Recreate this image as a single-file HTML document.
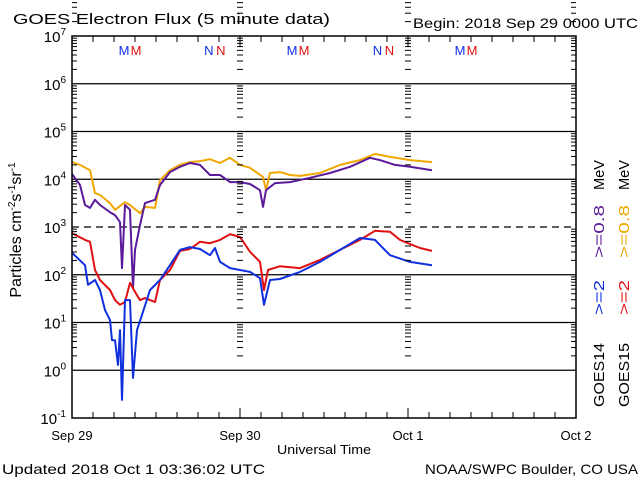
<!DOCTYPE html>
<html><head><meta charset="utf-8"><style>
html,body{margin:0;padding:0;background:#fff;}
svg{display:block;font-family:"Liberation Sans",sans-serif;}
</style></head><body>
<svg id="chart" width="640" height="480" viewBox="0 0 640 480">
<text x="13" y="24" font-size="15" textLength="317" lengthAdjust="spacingAndGlyphs">GOES Electron Flux (5 minute data)</text>
<text x="413" y="28" font-size="14" textLength="225" lengthAdjust="spacingAndGlyphs">Begin: 2018 Sep 29 0000 UTC</text>
<g id="grid"></g>
<g id="series"></g>
<g id="axes"></g>
<text transform="translate(21,230) rotate(-90)" font-size="16" text-anchor="middle">Particles cm<tspan font-size="10" dy="-6">-2</tspan><tspan dy="6">s</tspan><tspan font-size="10" dy="-6">-1</tspan><tspan dy="6">sr</tspan><tspan font-size="10" dy="-6">-1</tspan></text>
<text x="277" y="454" font-size="13" textLength="94" lengthAdjust="spacingAndGlyphs">Universal Time</text>
<text x="2" y="474" font-size="14" textLength="263" lengthAdjust="spacingAndGlyphs">Updated 2018 Oct  1 03:36:02 UTC</text>
<text x="425" y="474" font-size="14" textLength="213" lengthAdjust="spacingAndGlyphs">NOAA/SWPC Boulder, CO USA</text>
<g transform="translate(604,407) rotate(-90)" font-size="15">
<text x="0" y="0" fill="#000" textLength="64" lengthAdjust="spacingAndGlyphs">GOES14</text>
<text x="92" y="0" fill="#1030e0" textLength="35" lengthAdjust="spacingAndGlyphs">&gt;=2</text>
<text x="149" y="0" fill="#5a1a9a" textLength="53" lengthAdjust="spacingAndGlyphs">&gt;=0.8</text>
<text x="217" y="0" fill="#000" textLength="30" lengthAdjust="spacingAndGlyphs">MeV</text>
</g>
<g transform="translate(629,407) rotate(-90)" font-size="15">
<text x="0" y="0" fill="#000" textLength="64" lengthAdjust="spacingAndGlyphs">GOES15</text>
<text x="92" y="0" fill="#e01010" textLength="35" lengthAdjust="spacingAndGlyphs">&gt;=2</text>
<text x="149" y="0" fill="#f0a800" textLength="53" lengthAdjust="spacingAndGlyphs">&gt;=0.8</text>
<text x="217" y="0" fill="#000" textLength="30" lengthAdjust="spacingAndGlyphs">MeV</text>
</g>
<g id="markers" font-size="13"></g>
</svg>
<script>
const yTickExps = [7,6,5,4,3,2,1,0,-1];
const dayLabels = ["Sep 29","Sep 30","Oct 1","Oct 2"];
const markerLetters = ["M","N","M","N","M"];
const markerHours = [8.3,20.4,32.3,44.5,56.3];
// series: hours since Sep 29 00:00 UTC and log10 flux
const g15e08T = [0,1.14,2.57,3.29,4,5.43,6.14,7.57,8.29,9.71,10.43,11.86,12.57,14,15.43,16.86,18.29,19.71,21.14,22.57,24,25.43,27.29,27.71,28.29,29.71,31.14,32.57,35.43,38.29,41.14,43.29,45.43,48.29,51.43];
const g15e08V = [4.36,4.30,4.19,3.71,3.67,3.50,3.36,3.52,3.46,3.29,3.42,3.40,3.98,4.19,4.30,4.36,4.38,4.42,4.34,4.45,4.30,4.24,4.05,3.77,4.13,4.15,4.09,4.07,4.13,4.30,4.40,4.53,4.47,4.40,4.36];
const g14e08T = [0,1.14,1.86,2.57,3.29,4,5.43,6.14,6.86,7.14,7.57,8.29,8.71,9,9.71,10.43,11.86,12.57,14,15.43,16.86,18.29,19.71,21.14,22.57,24,25.43,26.86,27.29,27.71,29,31.14,34,36.86,39.71,42.57,44,46.14,48.29,51.43];
const g14e08V = [4.11,3.88,3.46,3.40,3.57,3.46,3.31,3.25,3.10,2.14,3.46,3.36,1.72,2.52,3.04,3.50,3.57,3.88,4.15,4.26,4.34,4.30,4.09,4.09,3.94,3.94,3.90,3.77,3.42,3.77,3.92,3.94,4.03,4.13,4.26,4.45,4.40,4.30,4.26,4.19];
const g15e2T = [0,1.86,2.57,3.29,4,5.43,6.14,6.86,7.57,8.29,9,9.71,10.43,11.14,11.86,12.57,14,15.43,16.86,18.29,19.71,21.14,22.57,24,25.43,26.86,27.43,28,29.71,32.57,35.43,38.29,41.14,43.29,45.43,46.86,49.71,51.43];
const g15e2V = [2.87,2.73,2.69,2.10,1.89,1.68,1.47,1.37,1.43,1.83,1.64,1.47,1.51,1.47,1.43,1.89,2.10,2.50,2.54,2.69,2.66,2.73,2.85,2.79,2.48,2.27,1.68,2.10,2.18,2.14,2.31,2.52,2.73,2.92,2.90,2.73,2.56,2.50];
const g14e2T = [0,1.86,2.29,3.29,4,4.71,5.43,5.71,6.14,6.57,6.86,7.14,7.57,8.29,8.71,9.29,10,11.14,12.57,14,15.43,16.86,18.29,19.71,20.43,21.14,22.57,24,25.43,26.86,27.43,28.29,29.71,32.57,35.43,38.29,41.14,43.29,45.43,48.29,51.43];
const g14e2V = [2.46,2.20,1.79,1.89,1.68,1.26,1.05,0.63,0.63,0.11,0.84,-0.62,1.47,1.47,-0.16,0.84,1.16,1.68,1.89,2.20,2.52,2.58,2.54,2.41,2.56,2.27,2.14,2.10,2.06,1.93,1.37,1.89,1.91,2.06,2.27,2.52,2.77,2.73,2.41,2.27,2.20];

const L=72,R=576,T=36,B=418;
const xS = h => L + h*(R-L)/72;
const yS = e => T + (7-e)*(B-T)/8;
const NS="http://www.w3.org/2000/svg";
function mk(tag,attrs,parent){const el=document.createElementNS(NS,tag);for(const k in attrs)el.setAttribute(k,attrs[k]);parent.appendChild(el);return el;}
const grid=document.getElementById('grid'),axes=document.getElementById('axes'),series=document.getElementById('series'),markers=document.getElementById('markers');

yTickExps.forEach(e=>{
  const y=yS(e);
  if(e<7&&e>-1){
    const ln=mk('line',{x1:L,x2:R,y1:y,y2:y,stroke:'#000','stroke-width':1.3,'stroke-dasharray':e===3?'7,5':'none'},grid);
    
    
  }
  const tx=mk('text',{x:L-6,y:y+6,'font-size':15,'text-anchor':'end'},axes);
  
  
  tx.textContent='10';
  const sp=mk('tspan',{'font-size':10,dy:-7},tx); sp.textContent=String(e);
  if(e>-1){
    for(let m=2;m<=9;m++){
      const yy=y-Math.log10(m)*(B-T)/8;
      [[L,L+5],[R-5,R],[xS(24)-3,xS(24)+3],[xS(48)-3,xS(48)+3]].forEach(p=>{
        const t=mk('line',{x1:p[0],x2:p[1],y1:yy,y2:yy,stroke:'#000','stroke-width':1},axes);
        
        
      });
    }
  }
});
for(let h=0;h<=72;h+=3){
  const x=xS(h);
  const len=h%24===0?10:6;
  const t1=mk('line',{x1:x,x2:x,y1:B,y2:B-len,stroke:'#000'},axes);
  
  
  const t2=mk('line',{x1:x,x2:x,y1:T,y2:T+len,stroke:'#000'},axes);
  
  
}
dayLabels.forEach((d,i)=>{
  const t=mk('text',{x:xS(i*24),y:B+22,'font-size':13,'text-anchor':'middle'},axes);
  
  
  t.textContent=d;
});
const frame=mk('rect',{x:L,y:T,width:R-L,height:B-T,fill:'none',stroke:'#000','stroke-width':1.5},axes);



function line(ts,vs,color,name){
  const d=ts.map((t,i)=>(i?'L':'M')+xS(t).toFixed(1)+','+yS(vs[i]).toFixed(1)).join('');
  const p=mk('path',{d:d,fill:'none',stroke:color,'stroke-width':2,'stroke-linejoin':'round'},series);
  
  
}
line(g15e08T,g15e08V,'#f0a800','series-goes15-0.8mev');
line(g14e08T,g14e08V,'#5a1a9a','series-goes14-0.8mev');
line(g15e2T,g15e2V,'#e01010','series-goes15-2mev');
line(g14e2T,g14e2V,'#1030e0','series-goes14-2mev');

markerLetters.forEach((c,i)=>{
  const x=xS(markerHours[i]);
  const a=mk('text',{x:x-6,y:55,fill:'#1030e0','text-anchor':'middle'},markers);
  
  
  a.textContent=c;
  const b=mk('text',{x:x+6,y:55,fill:'#e01010','text-anchor':'middle'},markers);
  
  
  b.textContent=c;
});
</script>
</body></html>
